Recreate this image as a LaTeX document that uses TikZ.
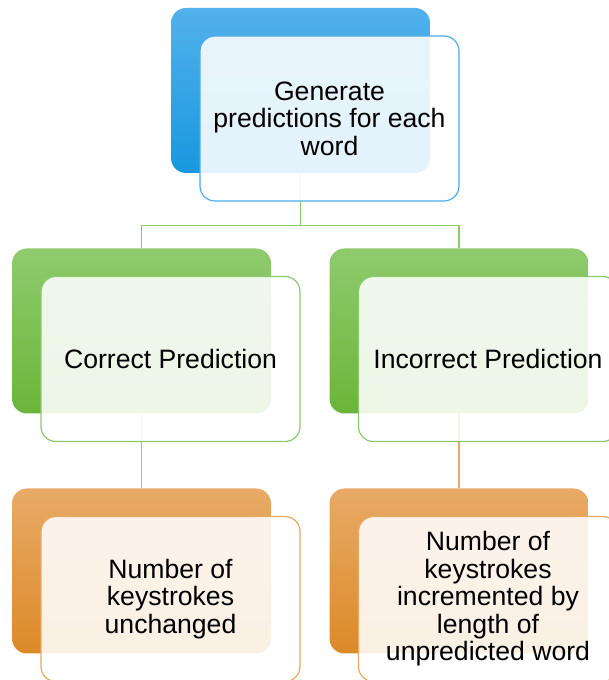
\documentclass[tikz,border=0pt]{standalone}
\usepackage{fontspec}
\setmainfont{Liberation Sans}
\usetikzlibrary{positioning}
\definecolor{blueTop}{HTML}{52B1EC}
\definecolor{blueBot}{HTML}{1898DF}
\definecolor{blueLine}{HTML}{4AACE8}
\definecolor{greenTop}{HTML}{8FCB6D}
\definecolor{greenBot}{HTML}{6BB53A}
\definecolor{greenLine}{HTML}{8CC96A}
\definecolor{orangeTop}{HTML}{E8AA66}
\definecolor{orangeBot}{HTML}{DC8A27}
\definecolor{orangeLine}{HTML}{E9A95E}

\tikzset{
  backbox/.style={rounded corners=15pt, minimum width=259pt, minimum height=165pt, inner sep=0pt},
  frontbox/.style={rounded corners=15pt, minimum width=259pt, minimum height=165pt, inner sep=0pt,
    fill=white, fill opacity=0.88, text opacity=1, line width=1.2pt, align=center,
    font=\fontsize{26.6pt}{27.5pt}\selectfont},
  link/.style={line width=1.3pt},
}

\begin{document}
\begin{tikzpicture}[x=1pt,y=1pt]
  \useasboundingbox (0,0) rectangle (609,680);
  \clip (0,0) rectangle (609,680);

  % back boxes
  \node[backbox, top color=blueTop, bottom color=blueBot] (genB) at (300.5,589.5) {};
  \node[backbox, top color=greenTop, bottom color=greenBot] (corrB) at (141.5,349) {};
  \node[backbox, top color=greenTop, bottom color=greenBot] (incB) at (459,349) {};
  \node[backbox, top color=orangeTop, bottom color=orangeBot] (sameB) at (141.5,109) {};
  \node[backbox, top color=orangeTop, bottom color=orangeBot] (lenB) at (459,109) {};

  % connectors
  \coordinate (split) at ([yshift=-52pt]genB.south);
  \draw[link, greenLine] (genB.south) -- (split) -| (corrB.north);
  \draw[link, greenLine] (split) -| (incB.north);
  \draw[link, orangeLine] (corrB.south) -- (sameB.north);
  \draw[link, orangeLine] (incB.south) -- (lenB.north);

  % front boxes
  \node[frontbox, draw=blueLine] (genF) at ([shift={(29,-28)}]genB) {Generate\\predictions for each\\word};
  \node[frontbox, draw=greenLine] (corrF) at ([shift={(29,-28)}]corrB) {Correct Prediction};
  \node[frontbox, draw=greenLine] (incF) at ([shift={(29,-28)}]incB) {Incorrect Prediction};
  \node[frontbox, draw=orangeLine] (sameF) at ([shift={(29,-28)}]sameB) {Number of\\keystrokes\\unchanged};
  \node[frontbox, draw=orangeLine] (lenF) at ([shift={(29,-28)}]lenB) {Number of\\keystrokes\\incremented by\\length of\\unpredicted word};
\end{tikzpicture}
\end{document}
